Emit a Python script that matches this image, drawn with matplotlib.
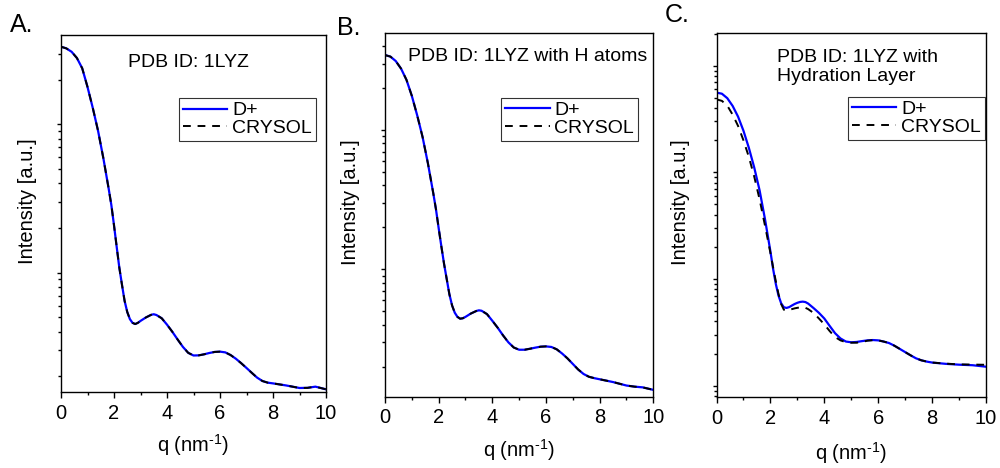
import numpy as np
import matplotlib
matplotlib.use("Agg")
import matplotlib.pyplot as plt
from matplotlib.ticker import LogLocator, NullFormatter, MultipleLocator

plt.rcParams["font.family"] = "Liberation Sans"
plt.rcParams["mathtext.fontset"] = "custom"
plt.rcParams["mathtext.rm"] = "Liberation Sans"
plt.rcParams["mathtext.it"] = "Liberation Sans:italic"

# q grid (nm^-1) and log10 of intensity (arb. units)
q_ab = [0, 0.2, 0.4, 0.6, 0.8, 1.0, 1.2, 1.4, 1.6, 1.8, 1.9, 2.0, 2.1, 2.2, 2.3,
        2.4, 2.5, 2.6, 2.7, 2.8, 2.9, 3.0, 3.2, 3.4, 3.5, 3.6, 3.8, 4.0, 4.2, 4.4,
        4.6, 4.8, 5.0, 5.2, 5.4, 5.6, 5.8, 6.0, 6.2, 6.4, 6.6, 6.8, 7.0, 7.2, 7.4,
        7.6, 7.8, 8.0, 8.5, 9.0, 9.3, 9.6, 10.0]

# A: PDB 1LYZ
logI_a_dplus = [1.523, 1.512, 1.489, 1.447, 1.378, 1.252, 1.110, 0.955, 0.770, 0.565,
                0.456, 0.320, 0.176, 0.035, -0.080, -0.190, -0.265, -0.313, -0.338,
                -0.346, -0.338, -0.325, -0.302, -0.284, -0.280, -0.285, -0.307, -0.350,
                -0.398, -0.450, -0.500, -0.540, -0.558, -0.557, -0.550, -0.541, -0.534,
                -0.532, -0.537, -0.555, -0.580, -0.610, -0.642, -0.675, -0.707, -0.730,
                -0.741, -0.746, -0.760, -0.777, -0.776, -0.768, -0.786]
logI_a_crysol = [1.523, 1.512, 1.489, 1.447, 1.378, 1.252, 1.110, 0.955, 0.770, 0.565,
                 0.456, 0.320, 0.176, 0.035, -0.080, -0.190, -0.265, -0.313, -0.338,
                 -0.346, -0.338, -0.325, -0.302, -0.284, -0.280, -0.285, -0.307, -0.350,
                 -0.398, -0.450, -0.500, -0.540, -0.558, -0.557, -0.550, -0.541, -0.534,
                 -0.532, -0.537, -0.555, -0.580, -0.610, -0.642, -0.675, -0.707, -0.730,
                 -0.741, -0.746, -0.760, -0.777, -0.776, -0.768, -0.786]

# B: 1LYZ with H atoms
logI_b_dplus = [1.538, 1.527, 1.495, 1.440, 1.360, 1.245, 1.105, 0.950, 0.760, 0.545,
                0.430, 0.295, 0.165, 0.040, -0.070, -0.180, -0.260, -0.312, -0.342,
                -0.355, -0.352, -0.342, -0.318, -0.300, -0.295, -0.298, -0.322, -0.370,
                -0.420, -0.475, -0.525, -0.562, -0.578, -0.578, -0.571, -0.563, -0.556,
                -0.554, -0.558, -0.575, -0.605, -0.640, -0.680, -0.720, -0.752, -0.772,
                -0.782, -0.790, -0.810, -0.835, -0.843, -0.848, -0.866]
logI_b_crysol = [1.538, 1.527, 1.495, 1.440, 1.360, 1.245, 1.105, 0.950, 0.760, 0.545,
                 0.430, 0.295, 0.165, 0.040, -0.070, -0.180, -0.260, -0.312, -0.342,
                 -0.355, -0.352, -0.342, -0.318, -0.300, -0.295, -0.298, -0.322, -0.370,
                 -0.420, -0.475, -0.525, -0.562, -0.578, -0.578, -0.571, -0.563, -0.556,
                 -0.554, -0.558, -0.575, -0.605, -0.640, -0.680, -0.720, -0.752, -0.772,
                 -0.782, -0.790, -0.810, -0.835, -0.843, -0.848, -0.866]

# C: 1LYZ with hydration layer
q_c = [0, 0.2, 0.4, 0.6, 0.8, 1.0, 1.2, 1.4, 1.6, 1.8, 2.0, 2.1, 2.2, 2.3, 2.4, 2.5,
       2.6, 2.7, 2.8, 2.9, 3.0, 3.1, 3.2, 3.3, 3.4, 3.6, 3.8, 4.0, 4.2, 4.4, 4.6, 4.8,
       5.0, 5.2, 5.4, 5.6, 5.8, 6.0, 6.2, 6.4, 6.6, 6.8, 7.0, 7.2, 7.4, 7.6, 7.8, 8.0,
       8.5, 9.0, 9.5, 10.0]
logI_c_dplus = [2.747, 2.737, 2.695, 2.622, 2.522, 2.390, 2.230, 2.045, 1.830, 1.560,
                1.260, 1.095, 0.955, 0.845, 0.772, 0.735, 0.729, 0.737, 0.752, 0.766,
                0.777, 0.785, 0.788, 0.784, 0.770, 0.728, 0.683, 0.630, 0.560, 0.492,
                0.443, 0.414, 0.407, 0.410, 0.418, 0.425, 0.428, 0.425, 0.414, 0.400,
                0.375, 0.345, 0.315, 0.285, 0.257, 0.238, 0.226, 0.217, 0.205, 0.197,
                0.192, 0.178]
logI_c_crysol = [2.684, 2.670, 2.625, 2.540, 2.435, 2.300, 2.145, 1.960, 1.745, 1.500,
                 1.245, 1.110, 0.980, 0.860, 0.765, 0.712, 0.704, 0.710, 0.718, 0.725,
                 0.730, 0.734, 0.735, 0.730, 0.718, 0.682, 0.630, 0.575, 0.512, 0.456,
                 0.425, 0.408, 0.403, 0.403, 0.410, 0.422, 0.427, 0.425, 0.414, 0.400,
                 0.375, 0.345, 0.315, 0.285, 0.257, 0.238, 0.226, 0.217, 0.207, 0.200,
                 0.198, 0.196]


def panel(rect, q, dplus, crysol, ylog, title, title_pos, title_ha, leg_pos, ylab_x, xlab_y):
    ax = fig.add_axes(rect)
    ax.plot(q, 10 ** np.array(dplus), color="#0000ff", lw=1.6, label="D+")
    ax.plot(q, 10 ** np.array(crysol), color="black", lw=1.4, ls=(0, (4, 3.5)), label="CRYSOL")
    ax.set_yscale("log")
    ax.set_xlim(0, 10)
    ax.set_ylim(10 ** ylog[0], 10 ** ylog[1])
    ax.xaxis.set_major_locator(MultipleLocator(2))
    ax.xaxis.set_minor_locator(MultipleLocator(1))
    ax.yaxis.set_major_locator(LogLocator(base=10))
    ax.yaxis.set_minor_locator(LogLocator(base=10, subs=range(2, 10)))
    ax.yaxis.set_major_formatter(NullFormatter())
    ax.yaxis.set_minor_formatter(NullFormatter())
    ax.tick_params(axis="x", which="major", length=4.3, width=1, labelsize=14.5, pad=4)
    ax.tick_params(axis="x", which="minor", length=2.4, width=1)
    ax.tick_params(axis="y", which="major", length=3.2, width=1)
    ax.tick_params(axis="y", which="minor", length=2.2, width=1)
    for s in ax.spines.values():
        s.set_linewidth(1.0)
    ax.set_xlabel(r"q (nm$^{\text{-1}}$)", fontsize=14.5, va="center")
    ax.xaxis.set_label_coords(0.5, xlab_y)
    ax.set_ylabel("Intensity [a.u.]", fontsize=14.5, va="center")
    ax.yaxis.set_label_coords(ylab_x, 0.535)
    ax.text(title_pos[0], title_pos[1], title, transform=ax.transAxes, fontsize=14,
            ha=title_ha, va="center", linespacing=1.2)
    leg = ax.legend(loc="upper right", bbox_to_anchor=leg_pos, fontsize=14, frameon=True,
                    fancybox=False, edgecolor="black", borderpad=0.2, labelspacing=0.0,
                    handlelength=2.3, handletextpad=0.25, borderaxespad=0)
    leg.get_frame().set_linewidth(0.8)
    return ax


fig = plt.figure(figsize=(10, 4.68), dpi=100)

panel([0.061, 0.1624, 0.265, 0.7628], q_ab, logI_a_dplus, logI_a_crysol, (-0.804, 1.602),
      "PDB ID: 1LYZ", (0.48, 0.924), "center", (0.962, 0.824), -0.125, -0.148)
panel([0.385, 0.1524, 0.2683, 0.7764], q_ab, logI_b_dplus, logI_b_crysol, (-0.915, 1.694),
      "PDB ID: 1LYZ with H atoms", (0.53, 0.935), "center", (0.943, 0.823), -0.13, -0.147)
panel([0.7165, 0.151, 0.2695, 0.7778], q_c, logI_c_dplus, logI_c_crysol, (-0.109, 3.303),
      "PDB ID: 1LYZ with\nHydration Layer", (0.223, 0.907), "left", (0.996, 0.826), -0.135, -0.153)

fig.text(0.01, 0.947, "A.", fontsize=18, va="center")
fig.text(0.337, 0.941, "B.", fontsize=18, va="center")
fig.text(0.665, 0.969, "C.", fontsize=18, va="center")

fig.savefig("out.png", dpi=100)
